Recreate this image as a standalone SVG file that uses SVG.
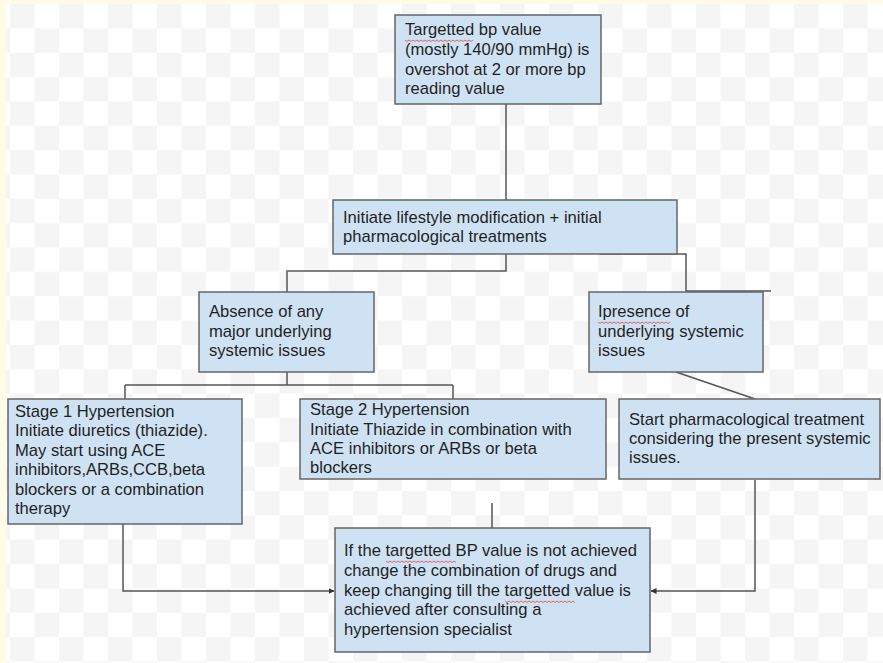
<svg xmlns="http://www.w3.org/2000/svg" width="883" height="663" viewBox="0 0 883 663">
<style>
.box{fill:#cfe2f3;stroke:#666;stroke-width:1.5}
.t{font-family:"Liberation Sans",Arial,sans-serif;font-size:16.6px;fill:#1f1f1f}
.c{fill:none;stroke:#555;stroke-width:1.5}
.sq{fill:none;stroke:#e06666;stroke-width:1}
</style>
<defs>
<pattern id="chk" patternUnits="userSpaceOnUse" x="10" y="4" width="49" height="48.7">
<rect width="49" height="48.7" fill="#ffffff"/>
<rect x="0" y="0" width="24.5" height="24.35" fill="#f5f5f5"/>
<rect x="24.5" y="24.35" width="24.5" height="24.35" fill="#f5f5f5"/>
</pattern>
<marker id="arr" markerWidth="6" markerHeight="6" refX="5.5" refY="3" orient="auto" markerUnits="userSpaceOnUse">
<path d="M0,0 L6,3 L0,6 Z" fill="#333"/>
</marker>
</defs>
<rect width="883" height="663" fill="#fffbe6"/>
<rect x="6" y="4" width="877" height="659" fill="url(#chk)"/>

<g id="connectors">
<path class="c" d="M506,104 V200"/>
<path class="c" d="M506,254 V271 H287 V292"/>
<path class="c" d="M600,254 H686 V291 H771"/>
<path class="c" d="M287,372 V385 M125,385 H453 M125,385 V399 M453,385 V399"/>
<path class="c" d="M676,372 L755,399"/>
<path class="c" d="M123,524 V591 H334" marker-end="url(#arr)"/>
<path class="c" d="M755,480 V591 H651" marker-end="url(#arr)"/>
<path class="c" d="M492,503 V528"/>
</g>

<g id="n1">
<rect class="box" x="395" y="15" width="206" height="89"/>
<text class="t" x="405" y="35">Targetted bp value</text>
<text class="t" x="405" y="55">(mostly 140/90 mmHg) is</text>
<text class="t" x="405" y="75">overshot at 2 or more bp</text>
<text class="t" x="405" y="94">reading value</text>
<path class="sq" d="M405,40 l2,1.5 l2,-1.5 l2,1.5 l2,-1.5 l2,1.5 l2,-1.5 l2,1.5 l2,-1.5 l2,1.5 l2,-1.5 l2,1.5 l2,-1.5 l2,1.5 l2,-1.5 l2,1.5 l2,-1.5 l2,1.5 l2,-1.5 l2,1.5 l2,-1.5 l2,1.5 l2,-1.5 l2,1.5 l2,-1.5 l2,1.5 l2,-1.5 l2,1.5 l2,-1.5 l2,1.5 l2,-1.5 l2,1.5 l2,-1.5 l2,1.5 l2,-1.5"/>
</g>

<g id="n2">
<rect class="box" x="333" y="200" width="344" height="54"/>
<text class="t" x="343" y="223">Initiate lifestyle modification + initial</text>
<text class="t" x="343" y="242">pharmacological treatments</text>
</g>

<g id="n3">
<rect class="box" x="199" y="292" width="175" height="80"/>
<text class="t" x="209" y="317">Absence of any</text>
<text class="t" x="209" y="337">major underlying</text>
<text class="t" x="209" y="356">systemic issues</text>
</g>

<g id="n4">
<rect class="box" x="589" y="292" width="174" height="80"/>
<text class="t" x="598" y="317">Ipresence of</text>
<text class="t" x="598" y="337">underlying systemic</text>
<text class="t" x="598" y="356">issues</text>
<path class="sq" d="M598,322 l2,1.5 l2,-1.5 l2,1.5 l2,-1.5 l2,1.5 l2,-1.5 l2,1.5 l2,-1.5 l2,1.5 l2,-1.5 l2,1.5 l2,-1.5 l2,1.5 l2,-1.5 l2,1.5 l2,-1.5 l2,1.5 l2,-1.5 l2,1.5 l2,-1.5 l2,1.5 l2,-1.5 l2,1.5 l2,-1.5 l2,1.5 l2,-1.5 l2,1.5 l2,-1.5 l2,1.5 l2,-1.5 l2,1.5 l2,-1.5 l2,1.5 l2,-1.5 l2,1.5 l2,-1.5"/>
</g>

<g id="n5">
<rect class="box" x="8" y="399" width="234" height="125"/>
<text class="t" x="15" y="417">Stage 1 Hypertension</text>
<text class="t" x="15" y="436">Initiate diuretics (thiazide).</text>
<text class="t" x="15" y="456">May start using ACE</text>
<text class="t" x="15" y="475">inhibitors,ARBs,CCB,beta</text>
<text class="t" x="15" y="495">blockers or a combination</text>
<text class="t" x="15" y="514">therapy</text>
</g>

<g id="n6">
<rect class="box" x="300" y="399" width="306" height="80"/>
<text class="t" x="310" y="415">Stage 2 Hypertension</text>
<text class="t" x="310" y="435">Initiate Thiazide in combination with</text>
<text class="t" x="310" y="454">ACE inhibitors or ARBs or beta</text>
<text class="t" x="310" y="473">blockers</text>
</g>

<g id="n7">
<rect class="box" x="619" y="399" width="261" height="80"/>
<text class="t" x="629" y="425">Start pharmacological treatment</text>
<text class="t" x="629" y="444">considering the present systemic</text>
<text class="t" x="629" y="463">issues.</text>
</g>

<g id="n8">
<rect class="box" x="335" y="528" width="315" height="124"/>
<text class="t" x="344" y="556">If the targetted BP value is not achieved</text>
<text class="t" x="344" y="576">change the combination of drugs and</text>
<text class="t" x="344" y="596">keep changing till the targetted value is</text>
<text class="t" x="344" y="615">achieved after consulting a</text>
<text class="t" x="344" y="635">hypertension specialist</text>
<path class="sq" d="M386,561 l2,1.5 l2,-1.5 l2,1.5 l2,-1.5 l2,1.5 l2,-1.5 l2,1.5 l2,-1.5 l2,1.5 l2,-1.5 l2,1.5 l2,-1.5 l2,1.5 l2,-1.5 l2,1.5 l2,-1.5 l2,1.5 l2,-1.5 l2,1.5 l2,-1.5 l2,1.5 l2,-1.5 l2,1.5 l2,-1.5 l2,1.5 l2,-1.5 l2,1.5 l2,-1.5 l2,1.5 l2,-1.5 l2,1.5 l2,-1.5 l2,1.5 l2,-1.5 l2,1.5"/>
<path class="sq" d="M505,601 l2,1.5 l2,-1.5 l2,1.5 l2,-1.5 l2,1.5 l2,-1.5 l2,1.5 l2,-1.5 l2,1.5 l2,-1.5 l2,1.5 l2,-1.5 l2,1.5 l2,-1.5 l2,1.5 l2,-1.5 l2,1.5 l2,-1.5 l2,1.5 l2,-1.5 l2,1.5 l2,-1.5 l2,1.5 l2,-1.5 l2,1.5 l2,-1.5 l2,1.5 l2,-1.5 l2,1.5 l2,-1.5 l2,1.5 l2,-1.5 l2,1.5 l2,-1.5 l2,1.5"/>
</g>
</svg>
